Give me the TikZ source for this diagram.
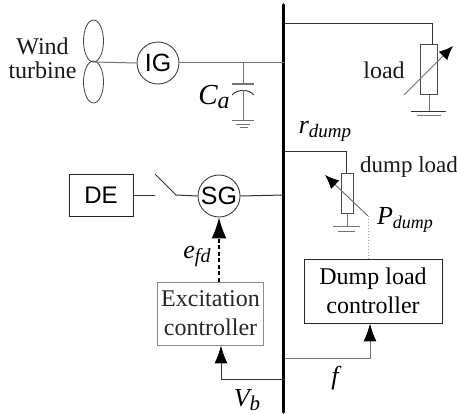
\documentclass[tikz,border=0pt]{standalone}
\usepackage{fontspec}
\setmainfont{Liberation Serif}
\newfontfamily\sansf{Liberation Sans}
\usetikzlibrary{arrows.meta,calc,shapes.geometric}
\tikzset{
  wire/.style={line width=1pt,draw=black!80},
  gwire/.style={line width=1pt,draw=black!55},
  lab/.style={inner sep=0pt,font=\fontsize{24}{26}\selectfont,align=center,text=black!90},
  mlab/.style={inner sep=0pt},
  mach/.style={circle,draw=black!75,line width=0.9pt,minimum size=42pt,inner sep=0pt,font=\sansf\fontsize{25}{26}\selectfont},
  ctrl/.style={draw=black!85,line width=0.9pt,inner sep=0pt,align=center,font=\fontsize{24}{29}\selectfont},
  res/.style={draw=black!70,line width=1pt,fill=white,inner sep=0pt},
  blade/.style={ellipse,draw=black!75,line width=0.8pt,inner sep=0pt,minimum width=20pt,minimum height=42pt},
  tip/.style={-{Latex[length=18pt,width=13pt,color=black,fill=black]}},
  ltip/.style={-{Latex[length=14pt,width=12pt,color=black,fill=black]}},
}
\begin{document}
\begin{tikzpicture}[x=1pt,y=-1pt]
\useasboundingbox (0,0) rectangle (457,414);
% bus
\coordinate (bt) at (283.5,5);
\coordinate (bb) at (283.5,412);
\draw[line width=3.6pt,line cap=round] (bt) -- (bb);
% wind turbine
\node[blade] (b1) at (93.5,41) {};
\node[blade] (b2) at (93.5,82) {};
\node[lab] (wt) at (42.5,58) {Wind\\[-2pt]turbine};
\node[mach] (ig) at (158,63) {IG};
\coordinate (hub) at (94,62);
\draw[gwire] (hub) -- (ig.west);
\coordinate (bigr) at (283.5,63);
\draw[gwire] (ig.east) -- (bigr);
% capacitor
\coordinate (c0) at (243,63);
\coordinate (c1) at (243,84);
\coordinate (c2) at (243,90);
\coordinate (c3) at (243,121);
\draw[gwire] (c0) -- (c1);
\draw[gwire,line width=1.2pt] (232,84) -- (254,84);
\draw[black!75,line width=1pt] (232,95) .. controls (237,89) and (249,89) .. (254,95);
\draw[gwire] (c2) -- (c3);
\draw[gwire] (232,121) -- (254,121) (236,125) -- (250,125) (240,128) -- (248,128);
\node[mlab] (ca) at (214,97) {\fontsize{29}{30}\selectfont\itshape C\raisebox{-4pt}{\fontsize{24}{26}\selectfont a}};
% load
\node[res,minimum width=17pt,minimum height=50pt] (lr) at (428.5,70) {};
\coordinate (l0) at (285,24);
\coordinate (l1) at (432,24);
\draw[wire] (l0) -- (l1) -- (432,45);
\coordinate (lg) at (429,112);
\draw[gwire] (429,95) -- (lg);
\draw[wire] (411,112) -- (446,112);
\draw[gwire] (417,116) -- (441,116);
\coordinate (la) at (404,95);
\coordinate (lb) at (453,46);
\draw[gwire,ltip] (la) -- (lb);
\node[lab] (loadt) at (384,70) {load};
% dump load
\node[mlab] (rd) at (325,131) {\fontsize{26}{28}\selectfont\itshape r\raisebox{-4pt}{\fontsize{19}{22}\selectfont dump}};
\node[res,minimum width=12pt,minimum height=40pt] (dr) at (347,193) {};
\coordinate (d0) at (285,152);
\coordinate (d1) at (346,152);
\draw[wire] (d0) -- (d1) -- (346,173);
\coordinate (dg) at (347,226);
\draw[gwire] (347,213) -- (dg);
\draw[gwire] (333,226) -- (360,226);
\draw[gwire] (338,231) -- (355,231);
\node[lab,font=\fontsize{23}{26}\selectfont] (dl) at (409,167) {dump load};
\node[mlab] (pd) at (405,220) {\fontsize{26}{28}\selectfont\itshape P\raisebox{-4pt}{\fontsize{18}{22}\selectfont dump}};
% dump controller
\node[ctrl,minimum width=138pt,minimum height=64pt] (dc) at (373,291) {Dump load\\controller};
\coordinate (pk) at (368,216);
\coordinate (pa) at (325,175);
\draw[black!35,line width=1pt,dotted] (dc.north -| pk) -- (pk);
\draw[gwire,ltip] (pk) -- (pa);
\coordinate (f0) at (285,358);
\coordinate (f1) at (370,358);
\draw[gwire,tip] (f0) -- (f1) -- (dc.south -| f1);
\node[mlab] (ft) at (335,378) {\fontsize{26}{28}\selectfont\itshape f};
% DE, switch, SG
\node[ctrl,minimum width=64pt,minimum height=42pt,font=\sansf\fontsize{24}{26}\selectfont] (de) at (101,195) {DE};
\node[mach] (sg) at (219,196) {SG};
\coordinate (s0) at (155,195);
\coordinate (s1) at (155,174);
\coordinate (s2) at (176,195);
\draw[wire] (de.east) -- (s0);
\draw[wire] (s1) -- (s2) -- (sg.west);
\coordinate (bsg) at (283.5,195);
\draw[wire] (sg.east) -- (bsg);
% excitation
\node[ctrl,draw=black!45,text=black!85,minimum width=106pt,minimum height=63pt] (ec) at (210.5,313.5) {Excitation\\controller};
\draw[line width=1.3pt,dash pattern=on 4pt off 2.5pt,-{Latex[length=21pt,width=15pt]}] (sg.south |- ec.north) -- (sg.south);
\node[mlab] (efd) at (197,257) {\fontsize{26}{28}\selectfont\itshape e\raisebox{-4pt}{\fontsize{20}{22}\selectfont fd}};
\coordinate (v0) at (285,379);
\coordinate (v1) at (221,379);
\draw[wire,tip] (v0) -- (v1) -- (ec.south -| v1);
\node[mlab] (vb) at (247,400) {\fontsize{26}{28}\selectfont\itshape V\raisebox{-4pt}{\fontsize{21}{24}\selectfont b}};
\end{tikzpicture}
\end{document}
